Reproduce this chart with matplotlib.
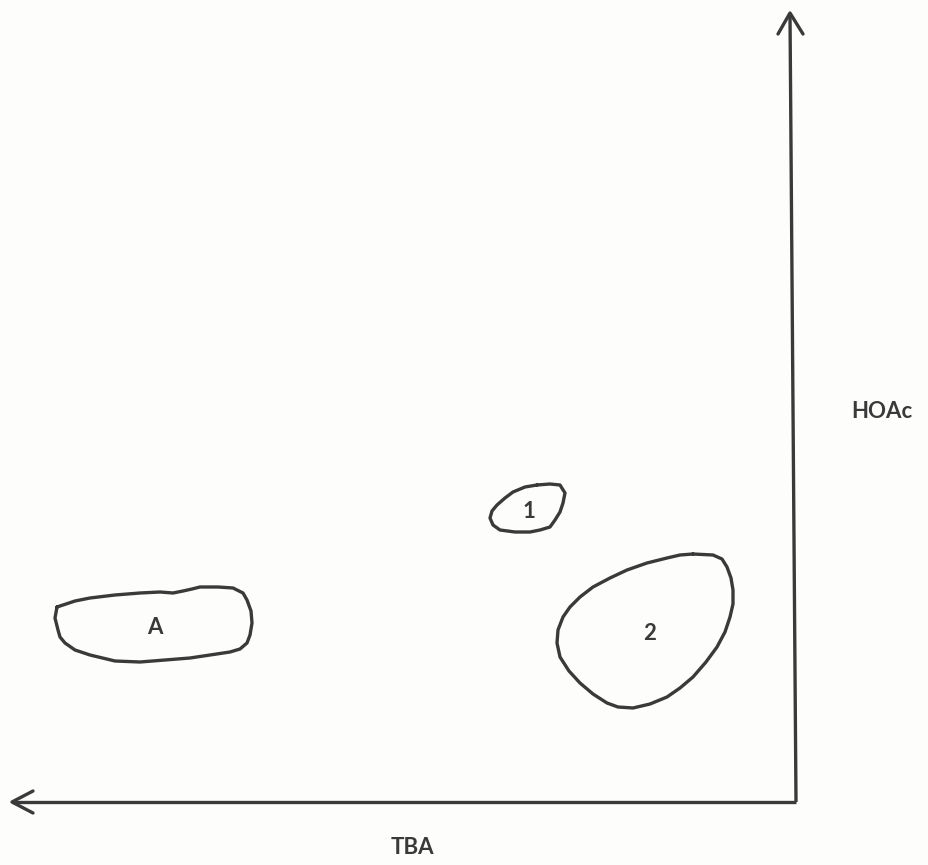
import matplotlib
matplotlib.use("Agg")
import matplotlib.pyplot as plt

# Spot outlines (x = TBA direction, y = HOAc direction)
spot_A_x = [57, 75, 90, 115, 140, 160, 173, 183, 192, 200, 218, 233, 243, 247, 251, 252, 250, 247, 240, 230, 210, 190, 165, 140, 115, 90, 75, 65, 60, 58, 55, 57]
spot_A_y = [607, 601, 598, 595, 593, 592, 593, 591, 589, 587, 587, 588, 593, 600, 611, 623, 635, 643, 649, 652, 655, 658, 660, 662, 661, 655, 650, 643, 637, 630, 618, 607]

spot_1_x = [537, 550, 560, 565, 563, 560, 555, 550, 540, 530, 515, 500, 493, 490, 492, 497, 505, 513, 525, 537]
spot_1_y = [485, 484, 485, 493, 503, 512, 520, 527, 530, 532, 532, 530, 525, 518, 511, 505, 498, 492, 487, 485]

spot_2_x = [693, 713, 722, 727, 731, 733, 733, 730, 725, 717, 706, 693, 680, 667, 650, 633, 618, 607, 593, 580, 569, 560, 557, 558, 563, 570, 580, 593, 610, 627, 647, 667, 680, 693]
spot_2_y = [554, 555, 559, 567, 578, 590, 604, 617, 632, 647, 662, 677, 688, 697, 704, 708, 707, 703, 694, 683, 671, 657, 643, 630, 617, 607, 597, 587, 578, 570, 563, 558, 555, 554]

spot_labels = ["A", "1", "2"]
label_x = [155, 529, 650]
label_y = [628, 512, 633]

# Axes (solvent directions)
v_axis_x = [796, 790]
v_axis_y = [802, 14]
h_axis_x = [796, 12]
h_axis_y = [802, 802]
up_head_x = [778, 790, 803]
up_head_y = [34, 13, 34]
left_head_x = [33, 12, 33]
left_head_y = [791, 802, 813]

axis_titles = ["TBA", "HOAc"]
title_x = [412, 882]
title_y = [848, 411]

ink = "#3a3a3a"
fig = plt.figure(figsize=(9.29, 8.65), dpi=100, facecolor="#fdfdfb")
ax = fig.add_axes([0, 0, 1, 1])
ax.set_facecolor("#fdfdfb")
ax.set_xlim(0, 929)
ax.set_ylim(865, 0)
ax.axis("off")

lw = 2.4
for xs, ys in [(spot_A_x, spot_A_y), (spot_1_x, spot_1_y), (spot_2_x, spot_2_y)]:
    ax.plot(xs, ys, color=ink, lw=lw, solid_joinstyle="round", solid_capstyle="round")

ax.plot(v_axis_x, v_axis_y, color=ink, lw=lw, solid_capstyle="butt")
ax.plot(h_axis_x, h_axis_y, color=ink, lw=lw, solid_capstyle="butt")
ax.plot(up_head_x, up_head_y, color=ink, lw=lw, solid_joinstyle="round", solid_capstyle="round")
ax.plot(left_head_x, left_head_y, color=ink, lw=lw, solid_joinstyle="round", solid_capstyle="round")

for t, x, y in zip(spot_labels, label_x, label_y):
    ax.text(x, y, t, ha="center", va="center", fontsize=16, fontweight="bold",
            family=["Lato", "DejaVu Sans"], color=ink)

for t, x, y in zip(axis_titles, title_x, title_y):
    ax.text(x, y, t, ha="center", va="center", fontsize=16, fontweight="bold",
            family=["Lato", "DejaVu Sans"], color=ink)

fig.savefig("out.png", dpi=100, facecolor=fig.get_facecolor())
